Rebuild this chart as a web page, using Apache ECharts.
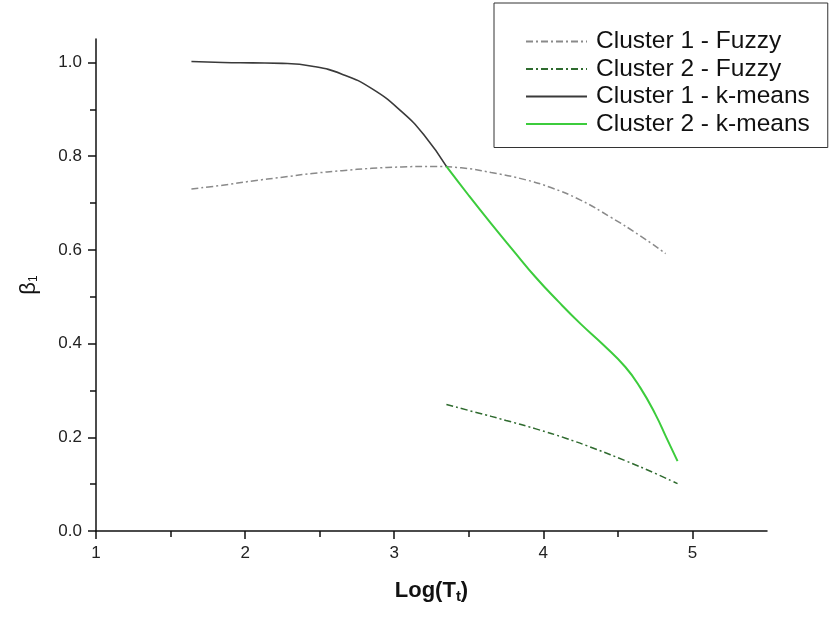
<!DOCTYPE html>
<html>
<head>
<meta charset="utf-8">
<script src="https://cdn.jsdelivr.net/npm/echarts@6/dist/echarts.min.js"></script>
<style>
  html, body { margin: 0; padding: 0; background: #fff; }
  #chart { width: 832px; height: 618px; }
</style>
</head>
<body>
<div id="chart"></div>
<script>
// values: [log(Tt), beta1]
var fuzzy1 = [[1.64, 0.730], [1.85, 0.738], [2.05, 0.747], [2.25, 0.755], [2.45, 0.763], [2.65, 0.769], [2.85, 0.774], [3.05, 0.777], [3.25, 0.778], [3.45, 0.775], [3.65, 0.765], [3.85, 0.752], [4.05, 0.733], [4.25, 0.706], [4.45, 0.670], [4.65, 0.630], [4.82, 0.592]];
var fuzzy2 = [[3.35, 0.270], [3.55, 0.253], [3.75, 0.236], [3.95, 0.218], [4.15, 0.198], [4.35, 0.175], [4.55, 0.150], [4.75, 0.123], [4.9, 0.101]];
var kmeans1 = [[1.64, 1.002], [1.85, 1.000], [2.05, 0.999], [2.25, 0.998], [2.45, 0.992], [2.65, 0.975], [2.85, 0.944], [3.05, 0.895], [3.2, 0.845], [3.35, 0.778]];
var kmeans2 = [[3.35, 0.778], [3.5, 0.716], [3.65, 0.656], [3.8, 0.598], [3.95, 0.541], [4.1, 0.490], [4.25, 0.442], [4.4, 0.398], [4.55, 0.350], [4.65, 0.306], [4.75, 0.250], [4.83, 0.196], [4.9, 0.149]];

var names = ['Cluster 1 - Fuzzy', 'Cluster 2 - Fuzzy', 'Cluster 1 - k-means', 'Cluster 2 - k-means'];
var xTicks = [1, 2, 3, 4, 5];
var yTicks = [0, 0.2, 0.4, 0.6, 0.8, 1.0];

var dashDot = [7, 3, 2, 3];

var chart = echarts.init(document.getElementById('chart'), null, { renderer: 'canvas' });

function lineSeries(name, data, color, type, width) {
    return {
        name: name,
        type: 'line',
        data: data,
        smooth: 0.5,
        showSymbol: false,
        symbol: 'none',
        animation: false,
        itemStyle: { color: color },
        lineStyle: { color: color, width: width, type: type }
    };
}

chart.setOption({
    animation: false,
    textStyle: { fontFamily: 'Liberation Sans, Arial, sans-serif' },
    grid: { left: 96, right: 65, top: 39, bottom: 87, containLabel: false, outerBoundsMode: 'none' },
    legend: {
        data: names,
        orient: 'vertical',
        left: 494,
        top: 3,
        padding: [26, 18, 11, 31],
        itemGap: 2.5,
        itemWidth: 61,
        itemHeight: 14,
        borderColor: '#333',
        borderWidth: 1,
        borderRadius: 0,
        itemStyle: { opacity: 0 },
        textStyle: { fontSize: 24.5, color: '#111', lineHeight: 25, padding: [0, 0, 0, 4] }
    },
    xAxis: {
        type: 'value',
        min: 1,
        max: 5.5,
        interval: 1,
        name: '{a|Log(T}{s|t}{a|)}',
        nameLocation: 'middle',
        nameGap: 46,
        nameTextStyle: {
            rich: {
                a: { fontSize: 22, fontWeight: 'bold', color: '#111' },
                s: { fontSize: 15, fontWeight: 'bold', color: '#111', padding: [12, 0, 0, 0] }
            }
        },
        axisLine: { show: true, onZero: false, lineStyle: { color: '#111', width: 1.5 } },
        axisTick: { show: true, inside: false, length: 8, customValues: xTicks, lineStyle: { color: '#111', width: 1.5 } },
        minorTick: { show: true, splitNumber: 2, length: 6, lineStyle: { color: '#111', width: 1.5 } },
        axisLabel: { customValues: xTicks, margin: 14, fontSize: 17, color: '#222' },
        splitLine: { show: false }
    },
    yAxis: {
        type: 'value',
        min: 0,
        max: 1.05,
        interval: 0.2,
        name: '{a|β}{s|1}',
        nameLocation: 'middle',
        nameRotate: 90,
        nameGap: 56,
        nameTextStyle: {
            rich: {
                a: { fontSize: 22, color: '#111' },
                s: { fontSize: 12, color: '#111', padding: [10, 0, 0, 0] }
            }
        },
        axisLine: { show: true, lineStyle: { color: '#111', width: 1.5 } },
        axisTick: { show: true, inside: false, length: 8, customValues: yTicks, lineStyle: { color: '#111', width: 1.5 } },
        minorTick: { show: true, splitNumber: 2, length: 6, lineStyle: { color: '#111', width: 1.5 } },
        axisLabel: {
            customValues: yTicks, margin: 14, fontSize: 17, color: '#222',
            formatter: function (v) { return v.toFixed(1); }
        },
        splitLine: { show: false }
    },
    series: [
        lineSeries(names[0], fuzzy1, '#8a8a8a', dashDot, 1.5),
        lineSeries(names[1], fuzzy2, '#2f6b2f', dashDot, 1.5),
        lineSeries(names[2], kmeans1, '#3a3a3a', 'solid', 1.6),
        lineSeries(names[3], kmeans2, '#3ccc3c', 'solid', 2)
    ]
});
</script>
</body>
</html>
